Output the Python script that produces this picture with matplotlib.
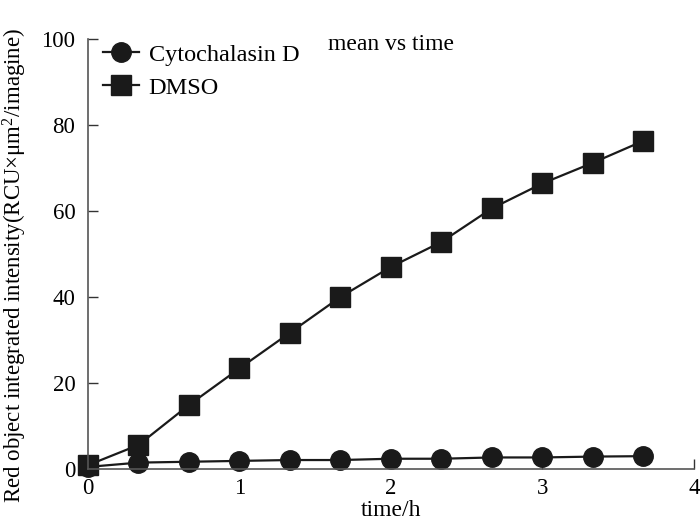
import matplotlib
matplotlib.use("Agg")
import matplotlib.pyplot as plt

plt.rcParams['font.family'] = ['Liberation Serif', 'DejaVu Serif']
plt.rcParams['mathtext.fontset'] = 'custom'
plt.rcParams['mathtext.rm'] = 'Liberation Serif'
plt.rcParams['mathtext.it'] = 'Liberation Serif:italic'

# time points (h) and mean intensity
time_h = [0, 1/3, 2/3, 1, 4/3, 5/3, 2, 7/3, 8/3, 3, 10/3, 11/3]
cytochalasin = [0.6, 1.6, 1.8, 2.0, 2.2, 2.2, 2.5, 2.5, 2.8, 2.8, 3.0, 3.1]
dmso = [1.0, 5.7, 15.0, 23.5, 31.8, 40.1, 47.1, 52.9, 60.7, 66.5, 71.3, 76.4]
xticks = [0, 1, 2, 3, 4]
yticks = [0, 20, 40, 60, 80, 100]

ink = '#1a1a1a'

fig = plt.figure(figsize=(7, 5.23), dpi=100)
ax = fig.add_axes([0.1257, 0.1023, 0.8657, 0.8226])

ax.plot(time_h, cytochalasin, color=ink, lw=1.6, marker='o', ms=14,
        label='Cytochalasin D', clip_on=False)
ax.plot(time_h, dmso, color=ink, lw=1.6, marker='s', ms=14,
        label='DMSO', clip_on=False)

ax.set_xlim(0, 4)
ax.set_ylim(0, 100)
ax.set_xticks(xticks)
ax.set_yticks(yticks)
ax.tick_params(direction='in', length=7, width=1, labelsize=16.5, color='#333333')
ax.tick_params(axis='x', pad=6)
ax.tick_params(axis='y', pad=9)

for s in ['top', 'right']:
    ax.spines[s].set_visible(False)
for s in ['left', 'bottom']:
    ax.spines[s].set_color('#555555')
    ax.spines[s].set_linewidth(1.2)

ax.set_xlabel('time/h', fontsize=17, labelpad=1)
ax.set_ylabel(r'Red object integrated intensity(RCU$\times$$\mathrm{\mu m}^2$/imagine)',
              fontsize=16.5, labelpad=4)
ax.yaxis.set_label_coords(-0.097, 0.475)

ax.text(0.5, 0.987, 'mean vs time', transform=ax.transAxes, ha='center',
        va='center', fontsize=17)

ax.legend(loc='upper left', bbox_to_anchor=(-0.012, 1.04), frameon=False,
          fontsize=17.5, handlelength=1.5, handletextpad=0.4, labelspacing=0.45,
          markerscale=1.0)

fig.savefig('out.png', dpi=100)
